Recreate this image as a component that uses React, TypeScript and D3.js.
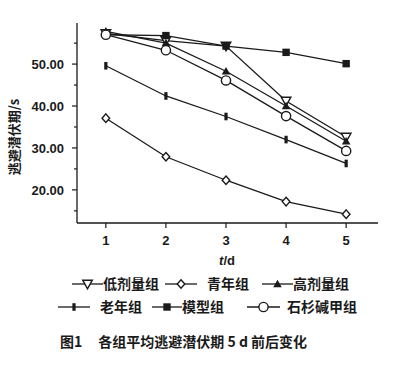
import React from 'react';
import * as d3 from 'd3';

// days on x axis
const days = [1, 2, 3, 4, 5];
const yTicks = [20, 30, 40, 50];
const yMinorTicks = [15, 25, 35, 45, 55];

// series values (escape latency, s)
const lowDose = [57.3, 55.6, 54.3, 41.2, 32.6];
const youth = [37.1, 27.9, 22.3, 17.2, 14.2];
const highDose = [57.8, 55.0, 48.3, 40.0, 31.6];
const elderly = [49.6, 42.4, 37.5, 32.0, 26.3];
const model = [57.0, 56.8, 54.3, 52.8, 50.1];
const huperzine = [57.0, 53.3, 46.1, 37.6, 29.3];

const names = ['低剂量组', '青年组', '高剂量组', '老年组', '模型组', '石杉碱甲组'];
type MarkerKind = 'tri-down' | 'diamond' | 'tri-up' | 'bar' | 'square' | 'circle';
const markers: MarkerKind[] = ['tri-down', 'diamond', 'tri-up', 'bar', 'square', 'circle'];
const seriesValues = [lowDose, youth, highDose, elderly, model, huperzine];

const ink = '#1a1a1a';
const cjk = '"Noto Sans CJK SC", sans-serif';
const numFont = '"Liberation Sans", Arial, sans-serif';

const Marker = ({ kind, x, y }: { kind: MarkerKind; x: number; y: number }) => {
  switch (kind) {
    case 'tri-down':
      return <path d={`M${x - 4.8},${y - 3.8}L${x + 4.8},${y - 3.8}L${x},${y + 4.8}Z`} fill="#fff" stroke={ink} strokeWidth={1.4} />;
    case 'tri-up':
      return <path d={`M${x - 4.3},${y + 3.2}L${x + 4.3},${y + 3.2}L${x},${y - 4.3}Z`} fill={ink} />;
    case 'diamond':
      return <path d={`M${x},${y - 4.3}L${x + 3.8},${y}L${x},${y + 4.3}L${x - 3.8},${y}Z`} fill="#fff" stroke={ink} strokeWidth={1.4} />;
    case 'bar':
      return <rect x={x - 1.6} y={y - 3.8} width={3.2} height={7.6} fill={ink} />;
    case 'square':
      return <rect x={x - 3.7} y={y - 3.7} width={7.4} height={7.4} fill={ink} />;
    case 'circle':
      return <circle cx={x} cy={y} r={4.6} fill="#fff" stroke={ink} strokeWidth={1.4} />;
  }
};

const App = () => {
  const x = d3.scaleLinear().domain([0.52, 5.53]).range([77, 378]);
  const y = d3.scaleLinear().domain([12.1, 59.8]).range([223, 23]);

  const line = d3.line<number>()
    .x((_, i) => x(days[i]))
    .y(d => y(d));

  // legend layout: two rows of three
  const legendRows = [284, 307];
  const legendLineX = [[72, 103], [165, 197], [262, 293], [58, 90], [152, 182], [247, 280]];
  const legendTextX = [103, 207, 293, 100, 182, 287];

  return (
    <div style={{ position: 'absolute', left: 0, top: 0 }}>
      <svg width={400} height={373} style={{ display: 'block', background: '#fff' }}>
        {/* axes */}
        <line x1={77} x2={77} y1={y(59.8)} y2={223} stroke={ink} strokeWidth={1.3} />
        <line x1={77} x2={378} y1={223} y2={223} stroke={ink} strokeWidth={1.3} />
        {yTicks.map(t => (
          <g key={t}>
            <line x1={72} x2={77} y1={y(t)} y2={y(t)} stroke={ink} strokeWidth={1.2} />
            <text x={64} y={y(t)} dy="0.36em" textAnchor="end" fontFamily={numFont} fontWeight="bold" fontSize={13} fill={ink}>
              {t.toFixed(2)}
            </text>
          </g>
        ))}
        {yMinorTicks.map(t => (
          <line key={t} x1={74} x2={77} y1={y(t)} y2={y(t)} stroke={ink} strokeWidth={1.2} />
        ))}
        {days.map(d => (
          <g key={d}>
            <line x1={x(d)} x2={x(d)} y1={223} y2={228} stroke={ink} strokeWidth={1.2} />
            <text x={x(d)} y={245} textAnchor="middle" fontFamily={numFont} fontWeight="bold" fontSize={13} fill={ink}>{d}</text>
          </g>
        ))}
        <text x={227} y={265} textAnchor="middle" fontFamily={numFont} fontWeight="bold" fontSize={13} fill={ink}>
          <tspan fontStyle="italic">t</tspan>/d
        </text>
        <text transform="translate(19,137) rotate(-90)" textAnchor="middle" fontFamily={cjk} fontWeight="bold" fontSize={13} fill={ink}>
          逃避潜伏期/s
        </text>

        {/* series */}
        {seriesValues.map((vals, si) => (
          <path key={names[si]} d={line(vals) || ''} fill="none" stroke={ink} strokeWidth={1.3} />
        ))}
        {seriesValues.map((vals, si) =>
          vals.map((v, i) => <Marker key={`${si}-${i}`} kind={markers[si]} x={x(days[i])} y={y(v)} />)
        )}

        {/* legend */}
        {names.map((n, i) => {
          const ly = legendRows[i < 3 ? 0 : 1];
          const [a, b] = legendLineX[i];
          return (
            <g key={n}>
              <line x1={a} x2={b} y1={ly} y2={ly} stroke={ink} strokeWidth={1.3} />
              <Marker kind={markers[i]} x={(a + b) / 2} y={ly} />
              <text x={legendTextX[i]} y={ly} dy="0.36em" fontFamily={cjk} fontWeight="bold" fontSize={14} fill={ink}>{n}</text>
            </g>
          );
        })}

        {/* caption */}
        <text x={60} y={347} fontFamily={cjk} fontWeight="bold" fontSize={14} fill={ink}>
          图1<tspan dx={16}>各组平均逃避潜伏期 5 d 前后变化</tspan>
        </text>
      </svg>
    </div>
  );
};

export default App;
